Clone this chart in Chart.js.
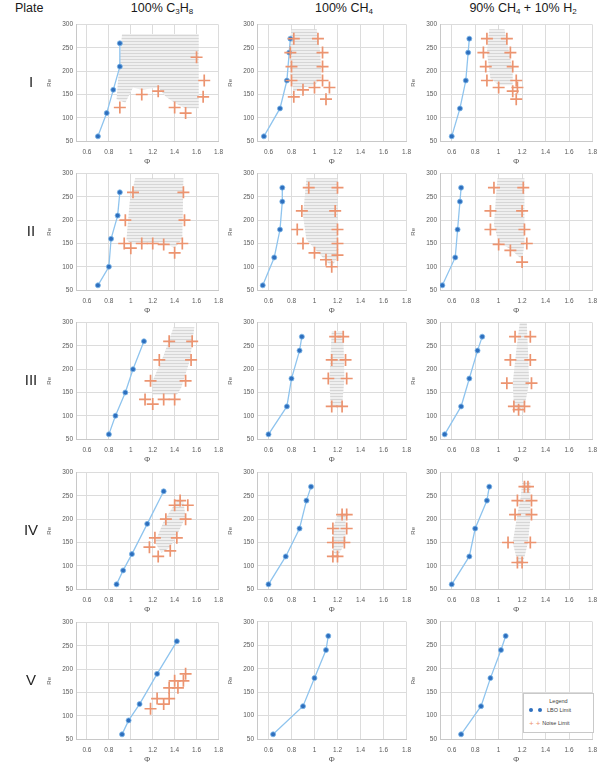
<!DOCTYPE html>
<html>
<head>
<meta charset="utf-8">
<script src="https://cdn.jsdelivr.net/npm/chart.js@4.4.1/dist/chart.umd.min.js"></script>
<style>
  body { margin: 0; width: 612px; height: 767px; position: relative; overflow: hidden; background: #fff;
         font-family: "Liberation Sans", Arial, sans-serif; color: #222; }
  .panel { position: absolute; }
  .txt { position: absolute; white-space: nowrap; color: #1a1a1a; }
  .title { font-size: 12.5px; width: 160px; text-align: center; }
  .title sub { font-size: 8px; vertical-align: -2px; }
  .row { font-size: 15px; width: 40px; height: 18px; line-height: 18px; text-align: center; color: #262626;
         will-change: transform; background: #fff; }
  #legend { position: absolute; left: 523px; top: 693px; width: 69px; height: 38px; border: 1px solid #c9c9c9;
            background: #fff; font-size: 5.5px; color: #404040; }
  #legend .hd { text-align: center; margin-top: 4px; }
  #legend .it { position: absolute; left: 5px; }
  .dot { display: inline-block; width: 4px; height: 4px; border-radius: 50%; background: #2e6fbe; margin-right: 5px; vertical-align: 0; }
  .crs { color: #ec9470; font-size: 8px; margin-right: 2px; vertical-align: -1px; }
</style>
</head>
<body>
<div class="txt" style="left:15px;top:1px;font-size:12.5px;">Plate</div>
<div class="txt title" style="left:82px;top:1px;">100% C<sub>3</sub>H<sub>8</sub></div>
<div class="txt title" style="left:264px;top:1px;">100% CH<sub>4</sub></div>
<div class="txt title" style="left:443px;top:1px;">90% CH<sub>4</sub> + 10% H<sub>2</sub></div>
<div id="legend">
  <div class="hd">Legend</div>
  <div class="it" style="top:13px;"><span class="dot"></span><span class="dot"></span>LBO Limit</div>
  <div class="it" style="top:25px;"><span class="crs">+</span><span class="crs">+</span>Noise Limit</div>
</div>
<script>
// axis ticks
const phiTicks = [0.6, 0.8, 1, 1.2, 1.4, 1.6, 1.8];
const reTicks = [50, 100, 150, 200, 250, 300];
const rowNames = ['I', 'II', 'III', 'IV', 'V'];

// [phi, Re] pairs
// Plate I
const I_C3H8_lbo = [[0.70, 60], [0.78, 110], [0.84, 160], [0.90, 210], [0.90, 260]];
const I_C3H8_noise = [[0.90, 122], [1.10, 150], [1.25, 157], [1.40, 122], [1.50, 110], [1.60, 230], [1.67, 180], [1.66, 145]];
const I_C3H8_zone = [[0.92, 280], [1.62, 280], [1.62, 120], [1.50, 120], [1.40, 132], [1.32, 145], [1.25, 165], [1.10, 160], [1.02, 165], [0.95, 132], [0.87, 140], [0.90, 230]];
const I_CH4_lbo = [[0.56, 60], [0.70, 120], [0.76, 180], [0.78, 240], [0.79, 270]];
const I_CH4_noise = [[0.82, 270], [0.79, 240], [0.80, 210], [0.80, 180], [0.82, 145], [0.90, 160], [1.00, 165], [1.03, 270], [1.07, 240], [1.07, 210], [1.07, 180], [1.13, 165], [1.10, 140]];
const I_CH4_zone = [[0.80, 290], [1.02, 290], [1.05, 240], [1.06, 185], [1.00, 170], [0.90, 165], [0.82, 155], [0.79, 190], [0.78, 250]];
const I_H2_lbo = [[0.60, 60], [0.67, 120], [0.72, 180], [0.74, 240], [0.75, 270]];
const I_H2_noise = [[0.90, 270], [0.87, 240], [0.89, 210], [0.90, 180], [1.00, 165], [1.07, 270], [1.10, 240], [1.12, 210], [1.15, 180], [1.16, 165], [1.12, 157], [1.15, 140]];
const I_H2_zone = [[0.92, 290], [1.05, 290], [1.09, 240], [1.12, 200], [1.12, 170], [1.00, 170], [0.93, 185], [0.90, 240]];
// Plate II
const II_C3H8_lbo = [[0.70, 60], [0.80, 100], [0.82, 160], [0.88, 210], [0.90, 260]];
const II_C3H8_noise = [[1.02, 260], [0.95, 200], [0.94, 150], [1.00, 140], [1.10, 150], [1.20, 150], [1.30, 148], [1.40, 130], [1.47, 150], [1.48, 260], [1.49, 200]];
const II_C3H8_zone = [[1.04, 290], [1.48, 290], [1.47, 160], [1.40, 140], [1.30, 152], [1.00, 150], [0.96, 158], [0.99, 240]];
const II_CH4_lbo = [[0.55, 60], [0.65, 120], [0.70, 180], [0.72, 240], [0.72, 270]];
const II_CH4_noise = [[0.95, 270], [0.89, 220], [0.85, 180], [0.90, 150], [1.00, 130], [1.10, 115], [1.15, 100], [1.20, 270], [1.18, 220], [1.20, 180], [1.20, 150], [1.20, 125]];
const II_CH4_zone = [[0.93, 290], [1.20, 290], [1.20, 120], [1.15, 100], [1.05, 125], [0.93, 158], [0.90, 210]];
const II_H2_lbo = [[0.52, 60], [0.63, 120], [0.65, 180], [0.67, 240], [0.68, 270]];
const II_H2_noise = [[0.96, 270], [0.93, 220], [0.93, 180], [1.00, 148], [1.10, 135], [1.20, 110], [1.21, 270], [1.20, 220], [1.22, 180], [1.24, 150]];
const II_H2_zone = [[0.99, 290], [1.22, 290], [1.22, 150], [1.20, 115], [1.10, 138], [1.00, 152], [0.96, 190], [0.98, 260]];
// Plate III
const III_C3H8_lbo = [[0.80, 60], [0.86, 100], [0.95, 150], [1.02, 200], [1.12, 260]];
const III_C3H8_noise = [[1.13, 135], [1.20, 125], [1.18, 175], [1.26, 220], [1.35, 260], [1.30, 135], [1.40, 135], [1.50, 175], [1.55, 220], [1.56, 260]];
const III_C3H8_zone = [[1.39, 290], [1.58, 290], [1.54, 220], [1.46, 160], [1.42, 145], [1.20, 145], [1.20, 175], [1.30, 230]];
const III_CH4_lbo = [[0.60, 60], [0.76, 120], [0.80, 180], [0.87, 240], [0.89, 270]];
const III_CH4_noise = [[1.18, 270], [1.25, 270], [1.15, 220], [1.27, 220], [1.12, 180], [1.28, 180], [1.15, 120], [1.24, 120]];
const III_CH4_zone = [[1.15, 282], [1.25, 282], [1.26, 180], [1.24, 120], [1.14, 120], [1.13, 180]];
const III_H2_lbo = [[0.54, 60], [0.68, 120], [0.75, 180], [0.82, 240], [0.86, 270]];
const III_H2_noise = [[1.14, 270], [1.27, 270], [1.10, 220], [1.27, 220], [1.07, 170], [1.28, 170], [1.13, 120], [1.22, 120], [1.17, 113]];
const III_H2_zone = [[1.18, 300], [1.24, 300], [1.25, 240], [1.26, 170], [1.22, 120], [1.17, 113], [1.13, 122], [1.12, 170], [1.15, 240]];
// Plate IV
const IV_C3H8_lbo = [[0.87, 60], [0.93, 90], [1.01, 125], [1.15, 190], [1.30, 260]];
const IV_C3H8_noise = [[1.17, 140], [1.22, 160], [1.25, 120], [1.32, 200], [1.36, 132], [1.42, 160], [1.40, 230], [1.45, 240], [1.50, 200], [1.52, 230]];
const IV_C3H8_zone = [[1.43, 242], [1.48, 238], [1.50, 205], [1.42, 165], [1.36, 140], [1.28, 128], [1.22, 150], [1.30, 195], [1.38, 225]];
const IV_CH4_lbo = [[0.60, 60], [0.75, 120], [0.87, 180], [0.93, 240], [0.97, 270]];
const IV_CH4_noise = [[1.24, 210], [1.28, 210], [1.16, 180], [1.28, 180], [1.16, 150], [1.26, 150], [1.16, 120], [1.20, 120]];
const IV_CH4_zone = [[1.20, 210], [1.27, 210], [1.27, 150], [1.20, 120], [1.16, 130], [1.16, 180]];
const IV_H2_lbo = [[0.60, 60], [0.75, 120], [0.80, 180], [0.90, 240], [0.92, 270]];
const IV_H2_noise = [[1.22, 270], [1.25, 270], [1.16, 240], [1.28, 240], [1.14, 210], [1.28, 210], [1.08, 150], [1.27, 150], [1.16, 107], [1.20, 107]];
const IV_H2_zone = [[1.20, 280], [1.27, 280], [1.27, 200], [1.25, 150], [1.21, 108], [1.16, 108], [1.12, 150], [1.16, 210], [1.19, 250]];
// Plate V
const V_C3H8_lbo = [[0.92, 60], [0.98, 90], [1.08, 125], [1.24, 190], [1.42, 260]];
const V_C3H8_noise = [[1.18, 115], [1.24, 137], [1.30, 125], [1.35, 160], [1.35, 137], [1.40, 175], [1.43, 160], [1.48, 175], [1.50, 190]];
const V_CH4_lbo = [[0.64, 60], [0.90, 120], [1.00, 180], [1.10, 240], [1.12, 270]];
const V_H2_lbo = [[0.68, 60], [0.85, 120], [0.93, 180], [1.02, 240], [1.06, 270]];

const panels = [
  [I_C3H8_lbo, I_C3H8_noise, I_C3H8_zone], [I_CH4_lbo, I_CH4_noise, I_CH4_zone], [I_H2_lbo, I_H2_noise, I_H2_zone],
  [II_C3H8_lbo, II_C3H8_noise, II_C3H8_zone], [II_CH4_lbo, II_CH4_noise, II_CH4_zone], [II_H2_lbo, II_H2_noise, II_H2_zone],
  [III_C3H8_lbo, III_C3H8_noise, III_C3H8_zone], [III_CH4_lbo, III_CH4_noise, III_CH4_zone], [III_H2_lbo, III_H2_noise, III_H2_zone],
  [IV_C3H8_lbo, IV_C3H8_noise, IV_C3H8_zone], [IV_CH4_lbo, IV_CH4_noise, IV_CH4_zone], [IV_H2_lbo, IV_H2_noise, IV_H2_zone],
  [V_C3H8_lbo, V_C3H8_noise, null], [V_CH4_lbo, null, null], [V_H2_lbo, null, null]
];

// plot-area placement
const colLeft = [76, 257, 440];
const colWidth = [146, 153, 156];
const rowTop = [23, 172, 321, 471, 621];

// light grey hatched fill
const hc = document.createElement('canvas');
hc.width = 4; hc.height = 3;
const hx = hc.getContext('2d');
hx.fillStyle = '#efefef'; hx.fillRect(0, 0, 4, 3);
hx.fillStyle = '#d6d6d6'; hx.fillRect(0, 0, 4, 1);
const hatch = hx.createPattern(hc, 'repeat');

const toXY = arr => arr.map(([x, y]) => ({x, y}));
const tickFont = {family: '"Liberation Sans", Arial, sans-serif', size: 6.5};

function makePanel(idx) {
  const r = Math.floor(idx / 3), c = idx % 3;
  const [lbo, noise, zone] = panels[idx];
  const cv = document.createElement('canvas');
  cv.className = 'panel';
  cv.width = colWidth[c] + 38;
  cv.height = 150;
  cv.style.left = (colLeft[c] - 30) + 'px';
  cv.style.top = (rowTop[r] - 6) + 'px';
  document.body.appendChild(cv);

  const datasets = [];
  if (zone) {
    datasets.push({data: toXY(zone), showLine: true, fill: 'shape', backgroundColor: hatch,
      borderWidth: 0, pointRadius: 0, order: 3});
  }
  if (noise) {
    datasets.push({data: toXY(noise), showLine: false, pointStyle: 'cross', pointRadius: 6,
      pointBorderColor: '#ec9470', pointBorderWidth: 1.7, order: 1});
  }
  datasets.push({data: toXY(lbo), showLine: true, borderColor: '#8fc4ee', borderWidth: 1.3,
    pointRadius: 2.5, pointBackgroundColor: '#2e6fbe', pointBorderColor: '#7db8e8', pointBorderWidth: 0.8, order: 2});

  new Chart(cv, {
    type: 'scatter',
    data: {datasets},
    options: {
      responsive: false,
      animation: false,
      events: [],
      layout: {padding: {top: 6, right: 8, left: 0, bottom: 0}},
      plugins: {legend: {display: false}, tooltip: {enabled: false}},
      scales: {
        x: {
          type: 'linear', min: 0.5, max: 1.8,
          afterBuildTicks: a => { a.ticks = phiTicks.map(v => ({value: v})); },
          afterFit: s => { s.height = 26; },
          grid: {color: '#dcdcdc', drawTicks: false},
          border: {color: '#c8c8c8'},
          ticks: {padding: 7, color: '#595959', font: tickFont, maxRotation: 0, autoSkip: false, callback: v => String(v)},
          title: {display: true, text: 'Φ', color: '#595959', font: {size: 8}, padding: 0}
        },
        y: {
          type: 'linear', min: 50, max: 300,
          afterBuildTicks: a => { a.ticks = reTicks.map(v => ({value: v})); },
          afterFit: s => { s.width = 30; },
          grid: {color: '#dcdcdc', drawTicks: false},
          border: {color: '#c8c8c8'},
          ticks: {padding: 3, color: '#595959', font: tickFont, callback: v => String(v)},
          title: {display: true, text: 'Re', color: '#595959', font: {size: 6}, padding: 0}
        }
      }
    }
  });
}

rowNames.forEach((name, r) => {
  const d = document.createElement('div');
  d.className = 'txt row';
  d.style.left = '11px';
  d.style.top = (rowTop[r] + 50) + 'px';
  d.textContent = name;
  document.body.appendChild(d);
});

for (let i = 0; i < panels.length; i++) makePanel(i);
document.body.appendChild(document.getElementById('legend'));
</script>
</body>
</html>
